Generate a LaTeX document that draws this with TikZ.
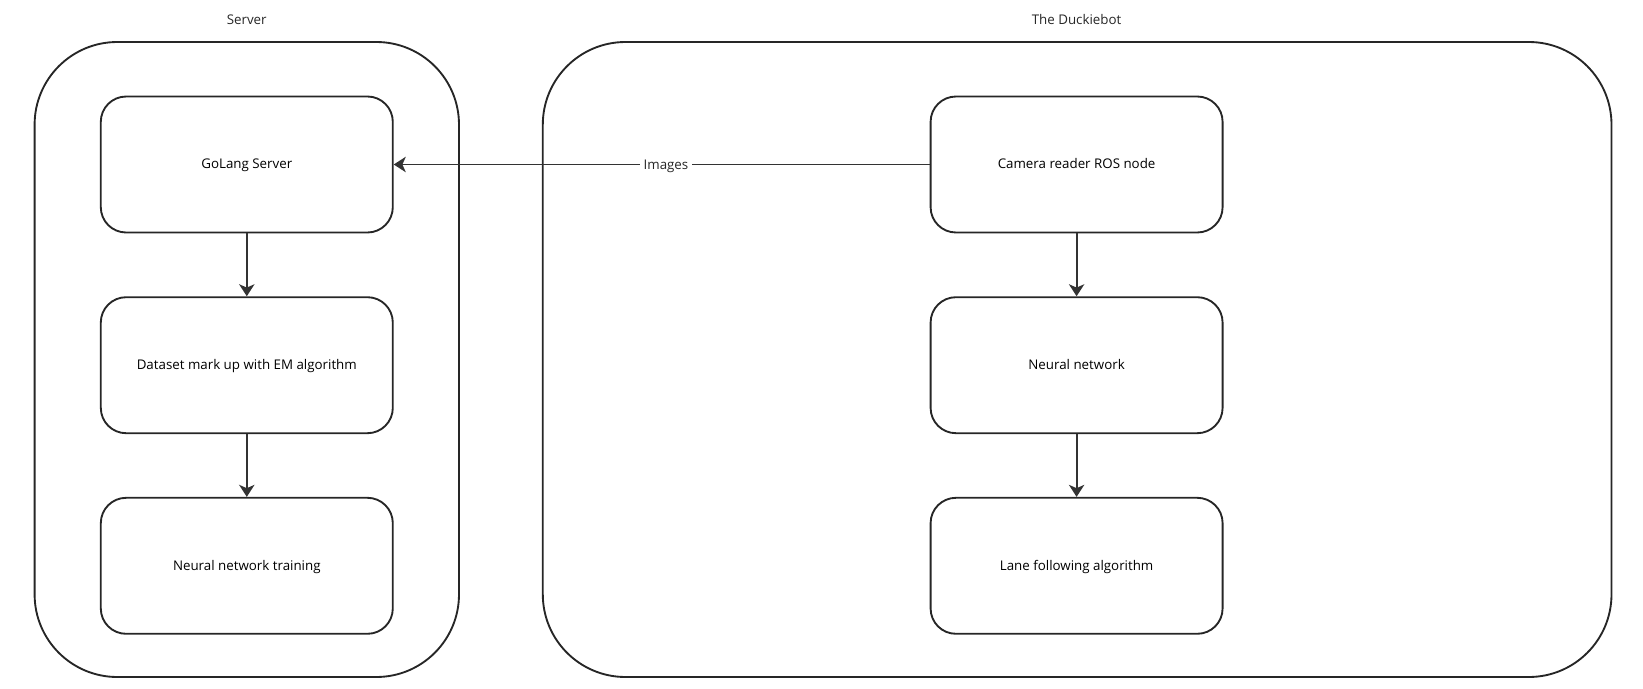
\documentclass[tikz,border=0pt]{standalone}
\usepackage{fontspec}
\setmainfont{Open Sans}
\usetikzlibrary{arrows.meta}
\tikzset{every picture/.style={line width=1.4pt}}
\tikzset{
  block/.style={draw=black!85, rounded corners=19pt, minimum width=219pt, minimum height=102pt, align=center, inner sep=0.75pt, text height=0.86em, text depth=0.2em},
  group/.style={draw=black!85, rounded corners=62pt},
  flow/.style={draw=black!80, -{Stealth[length=9pt,width=11.5pt,inset=2.5pt]}},
  title/.style={inner sep=0.75pt, text=black!85}
}

\begin{document}
\begin{tikzpicture}[x=0.75pt,y=0.75pt,yscale=-1,xscale=1,font=\fontsize{10}{12}\selectfont]
\useasboundingbox (0,0) rectangle (1643,689);

%Shape: Rounded Rect [id:server group]
\draw [group] (34.6,42) rectangle (459,677);
%Shape: Rounded Rect [id:duckiebot group]
\draw [group] (542.8,42) rectangle (1611.5,677);

% Text Node
\node [title] (srvtitle) at (246.7,19.5) {Server};
% Text Node
\node [title] (bottitle) at (1076.6,19.5) {The Duckiebot};

% Server column
\node [block] (golang) at (246.8,164.5) {GoLang Server};
\node [block] (dataset) at (246.8,365.2) {Dataset mark up with EM algorithm};
\node [block] (training) at (246.8,565.8) {Neural network training};

% Duckiebot column
\node [block] (camera) at (1076.6,164.5) {Camera reader ROS node};
\node [block] (neural) at (1076.6,365.2) {Neural network};
\node [block] (lane) at (1076.6,565.8) {Lane following algorithm};

%Straight Lines
\draw [flow] (golang) -- (dataset);
\draw [flow] (dataset) -- (training);
\draw [flow] (camera) -- (neural);
\draw [flow] (neural) -- (lane);
\draw [flow] (camera) -- node [pos=0.492, yshift=-1.2pt, fill=white, inner sep=2.5pt, text=black!85] {Images} (golang);

\end{tikzpicture}
\end{document}
